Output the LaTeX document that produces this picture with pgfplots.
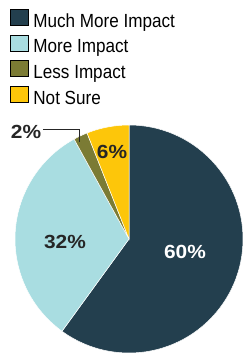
\documentclass[border=0pt]{standalone}
\usepackage{fontspec}
\setmainfont{Liberation Sans}
\newfontfamily\legfont[FakeStretch=0.9]{Liberation Sans}
\newfontfamily\labfont[FakeStretch=1.1]{Liberation Sans}
\usepackage{pgfplots}
\usepackage{pgfplotstable}
\pgfplotsset{compat=1.18}
\definecolor{cNavy}{HTML}{233F4E}
\definecolor{cLight}{HTML}{A9DDE1}
\definecolor{cOlive}{HTML}{7B7B34}
\definecolor{cYellow}{HTML}{FDC60A}
\pgfplotstableread{
label value
MuchMore 60
More 32
Less 2
NotSure 6
}\piedata
\begin{document}
\begin{tikzpicture}
\pgfplotstablegetelem{0}{value}\of\piedata \let\vA\pgfplotsretval
\pgfplotstablegetelem{1}{value}\of\piedata \let\vB\pgfplotsretval
\pgfplotstablegetelem{2}{value}\of\piedata \let\vC\pgfplotsretval
\pgfplotstablegetelem{3}{value}\of\piedata \let\vD\pgfplotsretval
\pgfmathsetmacro{\aA}{90}
\pgfmathsetmacro{\aB}{\aA-3.6*\vA}
\pgfmathsetmacro{\aC}{\aB-3.6*\vB}
\pgfmathsetmacro{\aD}{\aC-3.6*\vC}
\pgfmathsetmacro{\aE}{\aD-3.6*\vD}
\begin{axis}[
  x=1pt, y=1pt, xmin=0, xmax=243, ymin=0, ymax=358,
  scale only axis, hide axis, clip=false,
  legend style={at={(axis cs:10,349)}, anchor=north west, draw=none, fill=none,
    inner sep=0pt, outer sep=0pt, font=\legfont\fontsize{19}{21}\selectfont,
    row sep=4.5pt, column sep=0pt,
    nodes={inner sep=0pt, text height=13pt, text depth=3pt, anchor=west}},
  legend cell align=left,
  legend image code/.code={\fill[#1] (0pt,-3pt) rectangle (18pt,13pt);},
]
\addlegendimage{fill=cNavy}
\addlegendentry{\hspace{5pt}Much More Impact}
\addlegendimage{fill=cLight}
\addlegendentry{\hspace{5pt}More Impact}
\addlegendimage{fill=cOlive}
\addlegendentry{\hspace{5pt}Less Impact}
\addlegendimage{fill=cYellow}
\addlegendentry{\hspace{5pt}Not Sure}
\fill[cNavy, draw=white, line width=0.5pt] (axis cs:129,119) -- ++(\aA:114pt) arc[start angle=\aA, end angle=\aB, radius=114pt] -- cycle;
\fill[cLight, draw=white, line width=0.5pt] (axis cs:129,119) -- ++(\aB:114pt) arc[start angle=\aB, end angle=\aC, radius=114pt] -- cycle;
\fill[cOlive, draw=white, line width=0.5pt] (axis cs:129,119) -- ++(\aC:114pt) arc[start angle=\aC, end angle=\aD, radius=114pt] -- cycle;
\fill[cYellow, draw=white, line width=0.5pt] (axis cs:129,119) -- ++(\aD:114pt) arc[start angle=\aD, end angle=\aE, radius=114pt] -- cycle;
\node[text=white, font=\labfont\bfseries\fontsize{19}{21}\selectfont] at (axis cs:185,106) {60\%};
\node[text=black!85, font=\labfont\bfseries\fontsize{19}{21}\selectfont] at (axis cs:65,116) {32\%};
\node[text=black!85, font=\labfont\bfseries\fontsize{19}{21}\selectfont] at (axis cs:112,206) {6\%};
\node[text=black!85, font=\labfont\bfseries\fontsize{19}{21}\selectfont] at (axis cs:26,226) {2\%};
\draw[black!85, line width=0.6pt] (axis cs:43,229) -- (axis cs:79,229) -- (axis cs:79,216);
\end{axis}
\pgfresetboundingbox
\path[use as bounding box] (0,0) rectangle (243pt,358pt);
\end{tikzpicture}
\end{document}
